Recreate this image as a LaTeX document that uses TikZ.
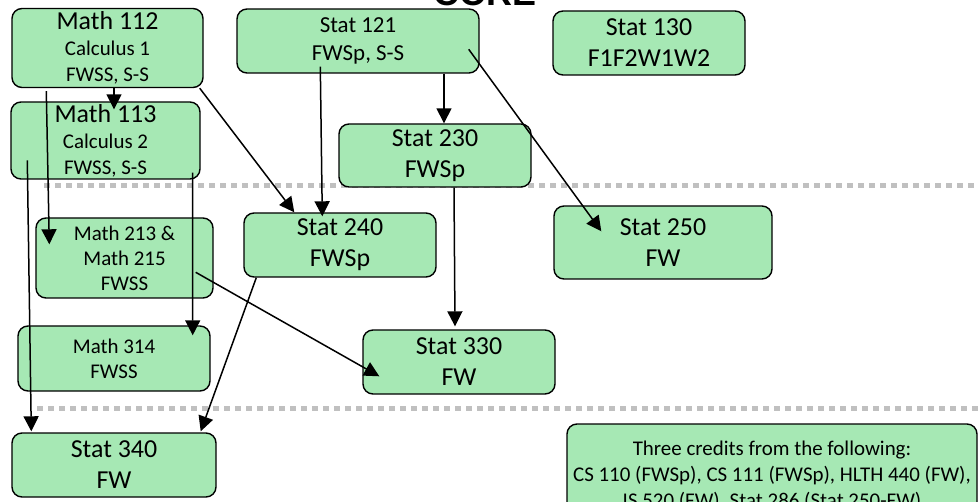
\documentclass[tikz,border=0pt]{standalone}
\usepackage{fontspec}
\setmainfont{Carlito}
\newfontfamily\titlefont{Liberation Sans}
\usetikzlibrary{arrows.meta,calc}
\definecolor{boxgreen}{RGB}{166,232,180}
\definecolor{sepgray}{RGB}{192,192,192}
\newcommand\bigsize{\fontsize{26}{31}\selectfont}
\newcommand\midsize{\fontsize{23}{28}\selectfont}
\newcommand\smallsize{\fontsize{21}{26}\selectfont}

\begin{document}
\begin{tikzpicture}[x=1bp,y=-1bp,
    course/.style={draw, fill=boxgreen, line width=1.4bp, rounded corners=10bp, align=center, inner sep=0pt},
    arr/.style={line width=1.5bp, -{Triangle[length=15bp,width=15bp]}},
    sep/.style={sepgray, line width=5bp, dash pattern=on 6bp off 5bp}]
            \useasboundingbox (0,0) rectangle (979,502);
            \clip (0,0) rectangle (979,502);
            \node[anchor=base, font=\titlefont\bfseries\fontsize{36}{36}\selectfont] (core) at (485,6) {CORE};
            \draw[sep] (44,185.5) -- (979,185.5);
            \draw[sep] (37,408) -- (979,408);
            \node[course, minimum width=191bp, minimum height=79bp, font=\smallsize] (m112) at (107.5,48) {{\bigsize Math 112}\\Calculus 1\\FWSS, S-S};
            \node[course, minimum width=189bp, minimum height=77bp, font=\smallsize] (m113) at (105.5,140.5) {{\bigsize Math 113}\\Calculus 2\\FWSS, S-S};
            \node[course, minimum width=242bp, minimum height=64bp, font=\midsize] (s121) at (358,41) {Stat 121\\FWSp, S-S};
            \node[course, minimum width=192bp, minimum height=64bp, font=\bigsize] (s130) at (649,43) {Stat 130\\F1F2W1W2};
            \node[course, minimum width=192bp, minimum height=63bp, font=\bigsize] (s230) at (435,155.5) {Stat 230\\FWSp};
            \node[course, minimum width=177bp, minimum height=80bp, font=\fontsize{21}{25}\selectfont] (m213) at (124.5,258) {Math 213 \&\\Math 215\\FWSS};
            \node[course, minimum width=192bp, minimum height=64bp, font=\bigsize] (s240) at (340,245) {Stat 240\\FWSp};
            \node[course, minimum width=218bp, minimum height=73bp, font=\bigsize] (s250) at (663,242.5) {Stat 250\\FW};
            \node[course, minimum width=192bp, minimum height=65bp, font=\fontsize{21}{25}\selectfont] (m314) at (114,358.5) {Math 314\\FWSS};
            \node[course, minimum width=192bp, minimum height=64bp, font=\bigsize] (s330) at (459,362) {Stat 330\\FW};
            \node[course, minimum width=204bp, minimum height=64bp, font=\bigsize] (s340) at (114,465) {Stat 340\\FW};
            \node[course, minimum width=410bp, minimum height=104bp, font=\smallsize] (extra) at (772,476) {Three credits from the following:\\CS 110 (FWSp), CS 111 (FWSp), HLTH 440 (FW),\\IS 520 (FW), Stat 286 (Stat 250-FW)};
            \draw[arr] ($(m112.south)+(6.5,0)$) -- ($(m113.north)+(8.5,8)$);
            \draw[arr] ($(m112.south west)+(35,3)$) -- ($(m213.north west)+(14,27)$);
            \draw[arr] ($(m113.north west)+(17,59)$) -- ($(s340.north west)+(20,-1)$);
            \draw[arr] ($(m113.south east)+(-8,-7)$) -- ($(m314.north east)+(-18,10)$);
            \draw[arr] ($(m112.south east)+(-4,0)$) -- ($(s240.north west)+(51,0)$);
            \draw[arr] ($(s121.south west)+(84,-7)$) -- ($(s240.north west)+(79,4)$);
            \draw[arr] ($(s121.south)+(86,0)$) -- ($(s230.north)+(9,0)$);
            \draw[arr] ($(s121.north east)+(-11,41)$) -- ($(s250.north west)+(48,26)$);
            \draw[arr] ($(s230.south)+(19,0)$) -- ($(s330.north)+(-4,-3)$);
            \draw[arr] ($(m213.north east)+(-18,55)$) -- ($(s330.north west)+(17,47)$);
            \draw[arr] ($(s240.south west)+(13,0)$) -- ($(s340.north east)+(-16,-1)$);
        \end{tikzpicture}
\end{document}
